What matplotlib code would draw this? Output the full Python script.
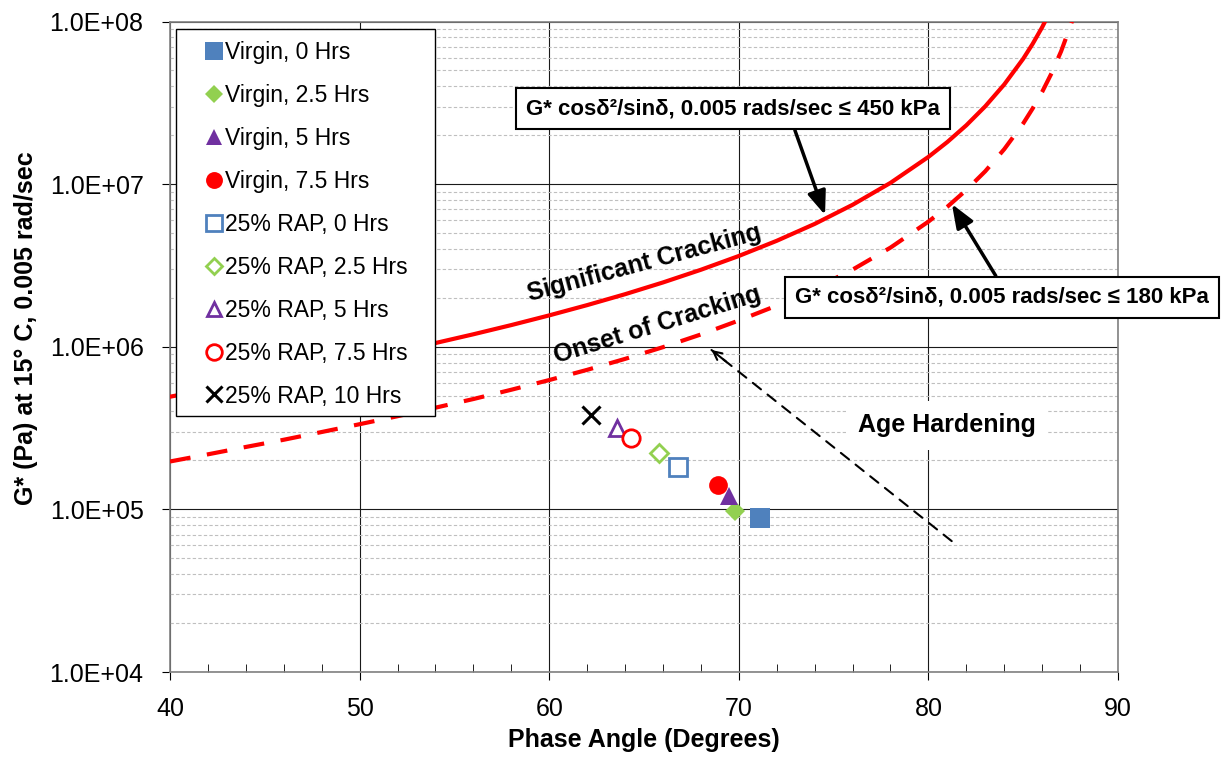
import matplotlib
matplotlib.use('Agg')
import matplotlib.pyplot as plt
from matplotlib.patches import Rectangle
from matplotlib.ticker import MultipleLocator, LogLocator, FuncFormatter, NullFormatter

plt.rcParams['font.family'] = ['Liberation Sans', 'DejaVu Sans']

# limit curves (phase angle in degrees, G* in Pa)
crit_angle_450 = [40, 42, 44, 46, 48, 50, 52, 54, 56, 58, 60, 62, 64, 66, 68, 70,
                  72, 74, 76, 78, 80, 81, 82, 83, 84, 85, 85.5, 86, 86.5]
crit_g_450 = [4.93e5, 5.45e5, 6.04e5, 6.71e5, 7.47e5, 8.34e5, 9.35e5, 1.054e6,
              1.193e6, 1.359e6, 1.559e6, 1.803e6, 2.104e6, 2.485e6, 2.974e6,
              3.615e6, 4.482e6, 5.69e6, 7.46e6, 1.018e7, 1.470e7, 1.816e7,
              2.30e7, 3.01e7, 4.10e7, 5.90e7, 7.29e7, 9.22e7, 1.205e8]

crit_angle_180 = [40, 42, 44, 46, 48, 50, 52, 54, 56, 58, 60, 62, 64, 66, 68, 70,
                  72, 74, 76, 78, 80, 81, 82, 83, 84, 85, 85.5, 86, 86.5, 87,
                  87.5, 87.7]
crit_g_180 = [1.97e5, 2.18e5, 2.42e5, 2.68e5, 2.99e5, 3.34e5, 3.74e5, 4.22e5,
              4.77e5, 5.44e5, 6.24e5, 7.21e5, 8.42e5, 9.94e5, 1.19e6, 1.45e6,
              1.79e6, 2.28e6, 2.98e6, 4.07e6, 5.88e6, 7.26e6, 9.20e6, 1.20e7,
              1.64e7, 2.36e7, 2.92e7, 3.69e7, 4.82e7, 6.56e7, 9.45e7, 1.117e8]

# measured binders
labels = ['Virgin, 0 Hrs', 'Virgin, 2.5 Hrs', 'Virgin, 5 Hrs', 'Virgin, 7.5 Hrs',
          '25% RAP, 0 Hrs', '25% RAP, 2.5 Hrs', '25% RAP, 5 Hrs',
          '25% RAP, 7.5 Hrs', '25% RAP, 10 Hrs']
phase_angle = [71.1, 69.8, 69.5, 68.9, 66.8, 65.8, 63.6, 64.3, 62.2]
g_star = [8.8e4, 9.8e4, 1.21e5, 1.42e5, 1.81e5, 2.21e5, 3.15e5, 2.76e5, 3.80e5]

blue = '#4F81BD'
green = '#92D050'
purple = '#7030A0'
red = '#FF0000'
styles = [
    dict(marker='s', ms=14, mfc=blue, mec=blue, mew=0),
    dict(marker='D', ms=10.5, mfc=green, mec=green, mew=0),
    dict(marker='^', ms=13.5, mfc=purple, mec=purple, mew=0),
    dict(marker='o', ms=13.5, mfc=red, mec=red, mew=0),
    dict(marker='s', ms=12.5, mfc='white', mec=blue, mew=2),
    dict(marker='D', ms=9.5, mfc='white', mec=green, mew=2),
    dict(marker='^', ms=11, mfc='white', mec=purple, mew=2),
    dict(marker='o', ms=12.5, mfc='white', mec=red, mew=2),
    dict(marker='x', ms=12.5, mfc='black', mec='black', mew=2.2),
]

W, H = 1222, 757
fig = plt.figure(figsize=(W / 100, H / 100), dpi=100)
ax = fig.add_axes([170 / W, 1 - 672 / H, (1118 - 170) / W, (672 - 21.5) / H])

ax.set_xlim(40, 90)
ax.set_yscale('log')
ax.set_ylim(1e4, 1e8)

# grid
ax.xaxis.set_major_locator(MultipleLocator(10))
ax.xaxis.set_minor_locator(MultipleLocator(2))
ax.yaxis.set_major_locator(LogLocator(base=10, numticks=10))
ax.yaxis.set_minor_locator(LogLocator(base=10, subs=range(2, 10), numticks=20))
ax.yaxis.set_minor_formatter(NullFormatter())
ax.yaxis.set_major_formatter(FuncFormatter(lambda v, p: f'{v:.1E}'))
ax.grid(True, which='major', color='#1a1a1a', lw=0.8)
ax.grid(True, which='minor', axis='y', color='#BFBFBF', lw=0.8, ls=(0, (3, 2)))
ax.set_axisbelow(True)
for s in ax.spines.values():
    s.set_color('#808080')
    s.set_linewidth(1.2)

ax.tick_params(axis='both', which='major', labelsize=18, length=6, color='black')
ax.tick_params(axis='x', which='major', direction='out', pad=12)
ax.tick_params(axis='y', which='major', direction='out', pad=13)
ax.tick_params(axis='x', which='minor', direction='in', length=6, color='black')
ax.tick_params(axis='y', which='minor', length=0)

# limit curves
ax.plot(crit_angle_450, crit_g_450, color=red, lw=3, zorder=3)
ax.plot(crit_angle_180, crit_g_180, color=red, lw=3, dashes=(5, 4), zorder=3)

handles = []
for x, y, lab, st in zip(phase_angle, g_star, labels, styles):
    h, = ax.plot([x], [y], ls='none', label=lab, zorder=5, **st)
    handles.append(h)

ax.set_xlabel('Phase Angle (Degrees)', fontsize=18, fontweight='bold')
ax.xaxis.set_label_coords(0.5, (672 - 740) / (672 - 21.5))
ax.xaxis.label.set_va('center')
ax.set_ylabel('G* (Pa) at 15° C, 0.005 rad/sec', fontsize=18, fontweight='bold')
ax.yaxis.set_label_coords((26 - 170) / (1118 - 170), (672 - 328) / (672 - 21.5))
ax.yaxis.label.set_va('center')

# text on the curves
ax.text(65.0, 3.27e6, 'Significant Cracking', fontsize=18, fontweight='bold',
        rotation=15, ha='center', va='center', rotation_mode='anchor')
ax.text(65.7, 1.36e6, 'Onset of Cracking', fontsize=18, fontweight='bold',
        rotation=17, ha='center', va='center', rotation_mode='anchor')

box = dict(boxstyle='square,pad=0.45', fc='white', ec='black', lw=1.5)
ax.annotate('G* cosδ²/sinδ, 0.005 rads/sec ≤ 450 kPa', xy=(74.55, 6.46e6),
            xytext=(69.7, 2.9e7), fontsize=16, fontweight='bold',
            ha='center', va='center', bbox=box, zorder=6,
            arrowprops=dict(arrowstyle='-|>,head_length=0.9,head_width=0.35',
                            color='black', lw=2.5, shrinkA=0, shrinkB=0,
                            relpos=(0.64, 0.0)))
ax.annotate('G* cosδ²/sinδ, 0.005 rads/sec ≤ 180 kPa', xy=(81.24, 7.54e6),
            xytext=(83.9, 2.02e6), fontsize=16, fontweight='bold',
            ha='center', va='center', bbox=box, zorder=6, annotation_clip=False,
            arrowprops=dict(arrowstyle='-|>,head_length=0.9,head_width=0.35',
                            color='black', lw=2.5, shrinkA=0, shrinkB=0,
                            relpos=(0.5, 1.0)))

# age hardening arrow: dashed shaft plus a solid open head
ax.annotate('', xy=(68.56, 9.55e5), xytext=(81.23, 6.38e4),
            arrowprops=dict(arrowstyle='-', color='black', lw=1.5,
                            ls=(0, (5, 4)), shrinkA=0, shrinkB=0))
ax.annotate('', xy=(68.56, 9.55e5), xytext=(69.32, 8.12e5),
            arrowprops=dict(arrowstyle='->,head_length=0.6,head_width=0.3',
                            color='black', lw=1.5, shrinkA=0, shrinkB=0))
ax.text(80.98, 3.3e5, 'Age Hardening', fontsize=18, fontweight='bold',
        ha='center', va='center', zorder=4,
        bbox=dict(boxstyle='square,pad=0.5', fc='white', ec='none'))

# legend box
fig.add_artist(Rectangle((176 / W, 1 - 416 / H), (435 - 176) / W, (416 - 29) / H,
                         transform=fig.transFigure, fc='white', ec='black',
                         lw=1, zorder=1))
fig.legend(handles=handles, loc='upper left', bbox_to_anchor=(204 / W, 1 - 41 / H),
           bbox_transform=fig.transFigure, frameon=False, fontsize=16.5,
           borderpad=0, borderaxespad=0, handlelength=0.85, handletextpad=0.05,
           labelspacing=0.87, markerscale=0.9)

fig.savefig('out.png', dpi=100)
